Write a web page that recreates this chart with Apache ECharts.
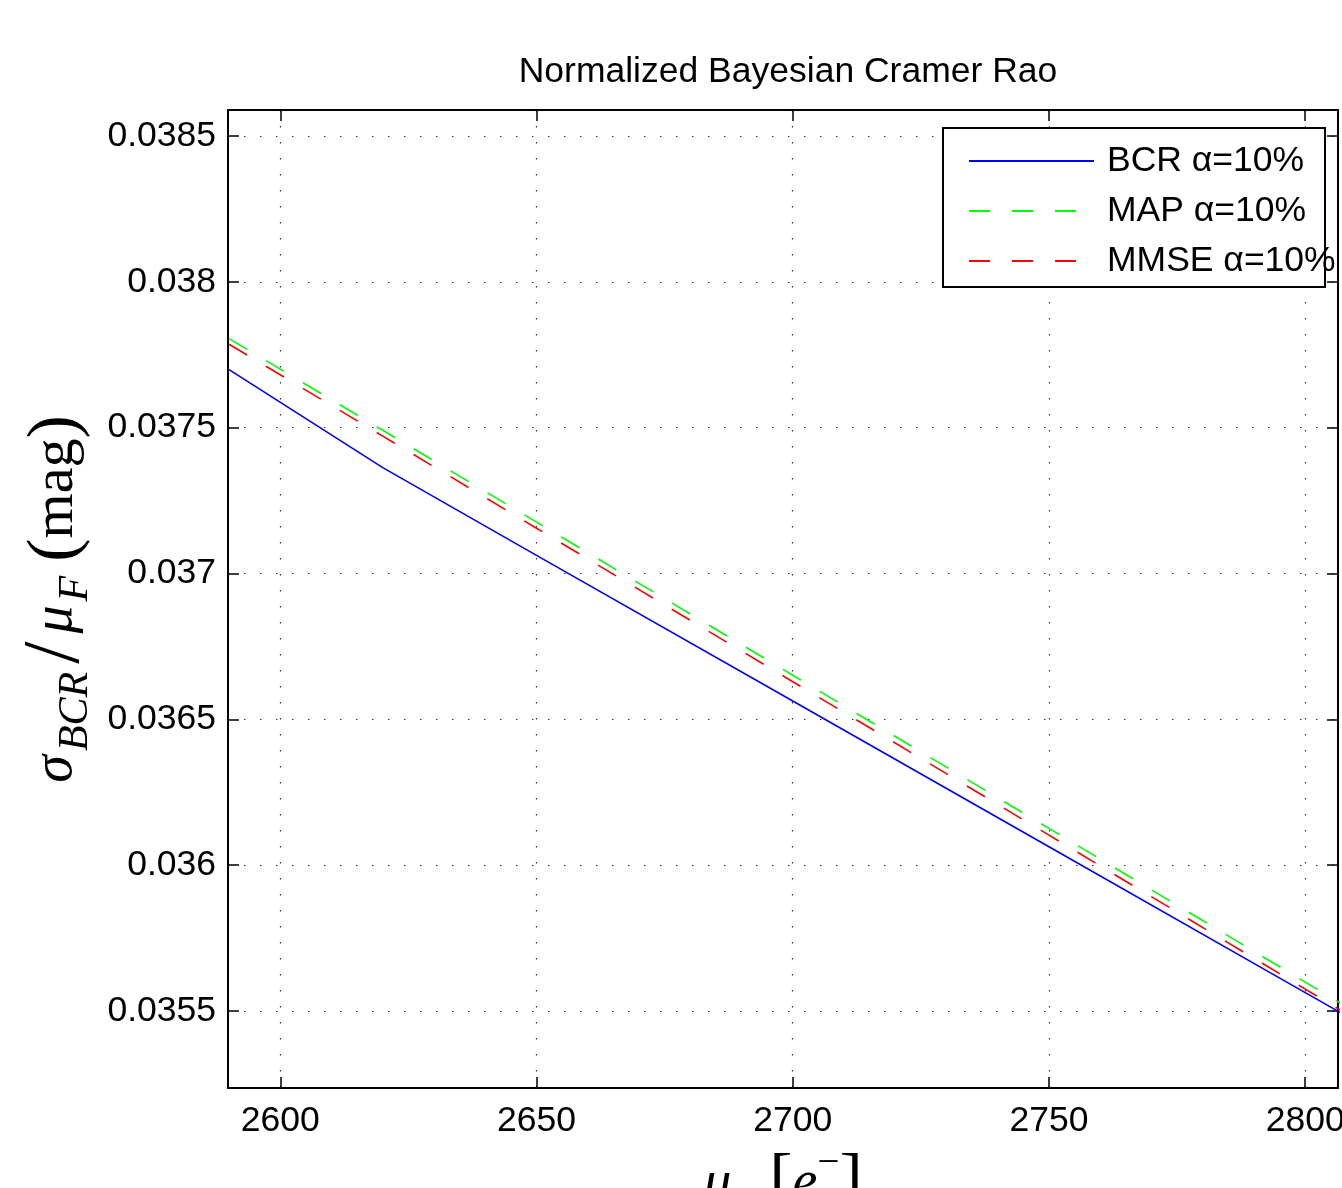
<!DOCTYPE html>
<html>
<head>
<meta charset="utf-8">
<script src="https://cdn.jsdelivr.net/npm/echarts@6/dist/echarts.min.js"></script>
<style>html,body{margin:0;padding:0;background:#fff;}#c{width:1342px;height:1188px;}</style>
</head>
<body>
<div id="c"></div>
<script>
// ---- data ----
const muF  = [2590, 2620, 2650, 2700, 2750, 2800, 2810];
const bcr  = [0.037699, 0.037363, 0.037062, 0.036563, 0.036063, 0.035563, 0.035463];
const map  = [0.037805, 0.037491, 0.037176, 0.036651, 0.036126, 0.035599, 0.035494];
const mmse = [0.037786, 0.037471, 0.037155, 0.036629, 0.036103, 0.035575, 0.035470];
const xTicks = [2600, 2650, 2700, 2750, 2800];
const yTicks = [0.0355, 0.036, 0.0365, 0.037, 0.0375, 0.038, 0.0385];
const seriesNames = ['BCR \u03B1=10%', 'MAP \u03B1=10%', 'MMSE \u03B1=10%'];
const titleText = 'Normalized Bayesian Cramer Rao';

const X_MIN = 2589.8, X_MAX = 2806.4;
const Y_MIN = 0.035236, Y_MAX = 0.038589;

const pair = (ys) => muF.map((x, i) => [x, ys[i]]);
const FONT = 'Liberation Sans';
const SERIF = 'Liberation Serif';
const FS = 35.5;

const chart = echarts.init(document.getElementById('c'), null, {renderer: 'canvas'});

const gridDot = {show: true, lineStyle: {color: '#333', width: 1.2, type: [1.5, 14.5]}};

const xNameRich = {
  i:   {fontFamily: SERIF, fontStyle: 'italic', fontSize: 56, color: '#000', lineHeight: 80, verticalAlign: 'middle'},
  n:   {fontFamily: SERIF, fontSize: 56, color: '#000', lineHeight: 80, verticalAlign: 'middle'},
  b:   {fontFamily: SERIF, fontSize: 70, color: '#000', lineHeight: 80, verticalAlign: 'middle'},
  sub: {fontFamily: SERIF, fontStyle: 'italic', fontSize: 39, color: '#000', lineHeight: 40, verticalAlign: 'bottom'},
  sup: {fontFamily: SERIF, fontSize: 39, color: '#000', lineHeight: 40, verticalAlign: 'top'}
};
const yNameRich = {
  i:   {fontFamily: SERIF, fontStyle: 'italic', fontSize: 56, color: '#000', lineHeight: 80, verticalAlign: 'middle'},
  n:   {fontFamily: SERIF, fontSize: 58, color: '#000', lineHeight: 80, verticalAlign: 'middle'},
  sl:  {fontFamily: SERIF, fontSize: 80, color: '#000', lineHeight: 80, verticalAlign: 'middle', padding: [0, 8, 0, 8]},
  b:   {fontFamily: SERIF, fontSize: 70, color: '#000', lineHeight: 80, verticalAlign: 'middle'},
  sub: {fontFamily: SERIF, fontStyle: 'italic', fontSize: 42, color: '#000', lineHeight: 50, verticalAlign: 'bottom', padding: [0, 0, 0, 4]},
  gap: {fontSize: 20, lineHeight: 80, width: 14}
};

chart.setOption({
  animation: false,
  backgroundColor: '#fff',
  title: {
    text: titleText, left: 783, top: 49, textAlign: 'center',
    textStyle: {fontFamily: FONT, fontSize: FS, fontWeight: 'normal', color: '#000'}
  },
  grid: {left: 228, top: 110, right: 4, bottom: 100, containLabel: false, outerBoundsMode: 'none'},
  legend: {
    data: seriesNames, orient: 'vertical', left: 968, top: 143,
    itemWidth: 125, itemHeight: 30, itemGap: 14, padding: 0,
    itemStyle: {opacity: 0},
    textStyle: {fontFamily: FONT, fontSize: FS, color: '#000', lineHeight: 30, padding: [0, 0, 0, 8]},
    z: 20
  },
  graphic: [{
    type: 'rect', z: 10,
    shape: {x: 943, y: 128, width: 382, height: 159},
    style: {fill: '#fff', stroke: '#000', lineWidth: 2}
  }],
  xAxis: [{
    type: 'value', min: X_MIN, max: X_MAX, position: 'bottom',
    name: '{i|\u03BC}{sub|F}{n| }{b|[}{i|e}{sup|\u2212}{b|]}',
    nameLocation: 'middle', nameGap: 50,
    nameTextStyle: {rich: xNameRich},
    axisLine: {onZero: false, lineStyle: {color: '#000', width: 2}},
    axisTick: {inside: true, length: 11, lineStyle: {color: '#000', width: 1.5}, customValues: xTicks},
    axisLabel: {customValues: xTicks, margin: 15, fontFamily: FONT, fontSize: FS, color: '#000', formatter: v => String(v)},
    splitLine: gridDot
  }, {
    type: 'value', min: X_MIN, max: X_MAX, position: 'top',
    axisLine: {onZero: false, lineStyle: {color: '#000', width: 2}},
    axisTick: {inside: true, length: 11, lineStyle: {color: '#000', width: 1.5}, customValues: xTicks},
    axisLabel: {show: false, customValues: xTicks},
    splitLine: {show: false}
  }],
  yAxis: [{
    type: 'value', min: Y_MIN, max: Y_MAX, position: 'left',
    name: '{i|\u03C3}{sub|BCR}{sl|/}{i|\u03BC}{sub|F}{gap| }{b|(}{n|mag}{b|)}',
    nameLocation: 'middle', nameRotate: 90, nameGap: 118,
    nameTextStyle: {rich: yNameRich},
    axisLine: {onZero: false, lineStyle: {color: '#000', width: 2}},
    axisTick: {inside: true, length: 11, lineStyle: {color: '#000', width: 1.5}, customValues: yTicks},
    axisLabel: {customValues: yTicks, margin: 12, fontFamily: FONT, fontSize: FS, color: '#000',
      formatter: v => String(+(+v).toFixed(4))},
    splitLine: gridDot
  }, {
    type: 'value', min: Y_MIN, max: Y_MAX, position: 'right',
    axisLine: {onZero: false, lineStyle: {color: '#000', width: 2}},
    axisTick: {inside: true, length: 11, lineStyle: {color: '#000', width: 1.5}, customValues: yTicks},
    axisLabel: {show: false, customValues: yTicks},
    splitLine: {show: false}
  }],
  series: [
    {name: seriesNames[0], type: 'line', data: pair(bcr), symbol: 'none', clip: true,
     lineStyle: {color: '#0000ff', width: 1.6, type: 'solid'}, itemStyle: {color: '#0000ff'}},
    {name: seriesNames[1], type: 'line', data: pair(map), symbol: 'none', clip: true,
     lineStyle: {color: '#00ff00', width: 1.6, type: [21, 22]}, itemStyle: {color: '#00ff00'}},
    {name: seriesNames[2], type: 'line', data: pair(mmse), symbol: 'none', clip: true,
     lineStyle: {color: '#ff0000', width: 1.6, type: [21, 22]}, itemStyle: {color: '#ff0000'}}
  ]
});
</script>
</body>
</html>
